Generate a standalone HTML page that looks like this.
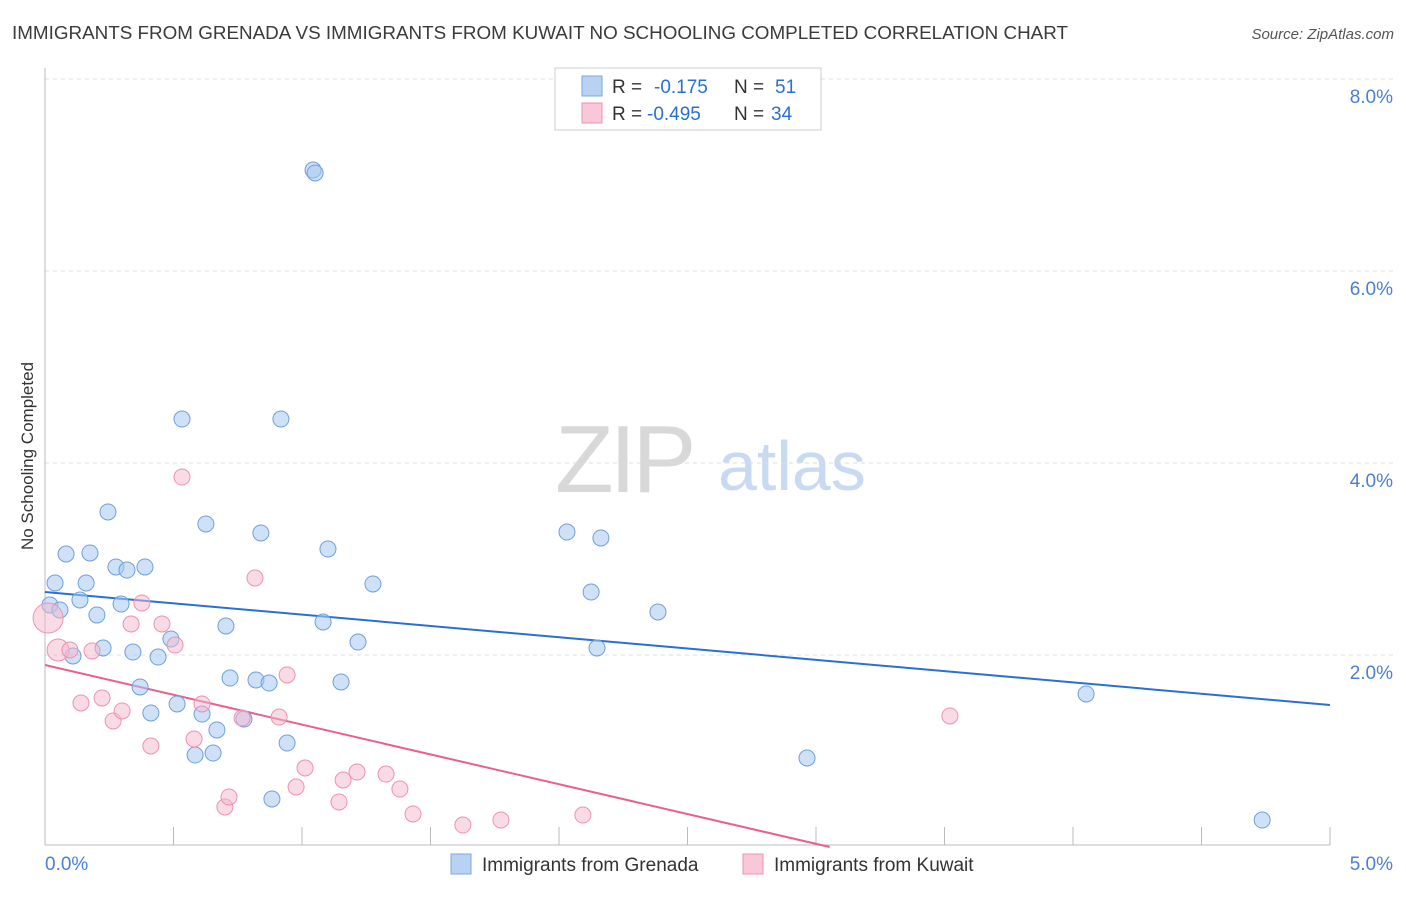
<!DOCTYPE html>
<html><head><meta charset="utf-8">
<style>
body{margin:0;background:#fff;font-family:"Liberation Sans",sans-serif;}
svg text{font-family:"Liberation Sans",sans-serif;}
</style></head>
<body>
<svg id="chart" width="1406" height="892" xmlns="http://www.w3.org/2000/svg">
<text x="12" y="39" font-size="18" fill="#3a3a3a" textLength="1056" lengthAdjust="spacingAndGlyphs">IMMIGRANTS FROM GRENADA VS IMMIGRANTS FROM KUWAIT NO SCHOOLING COMPLETED CORRELATION CHART</text>
<text x="1394" y="39" font-size="15" fill="#555" font-style="italic" text-anchor="end">Source: ZipAtlas.com</text>
<text transform="translate(33,456) rotate(-90)" font-size="17" fill="#333" text-anchor="middle">No Schooling Completed</text>
<g>
<text x="555" y="492" font-size="96" fill="#d8d8d8" font-family="Liberation Serif" letter-spacing="-4">ZIP</text>
<text x="718" y="490" font-size="70" fill="#c8daf2">atlas</text>
</g>
<g id="grid"></g><g id="axes"></g><g id="lines"></g><g id="points"></g>
<g>
<rect x="555" y="68" width="266" height="62" fill="#fff" stroke="#ccc"/>
<rect x="582" y="76" width="20" height="20" fill="#b8d2f4" stroke="#7aa8e0"/>
<text x="612" y="93" font-size="19" fill="#333">R = </text><text x="654" y="93" font-size="19" fill="#2a6fd4">-0.175</text>
<text x="734" y="93" font-size="19" fill="#333">N = </text><text x="775" y="93" font-size="19" fill="#2a6fd4">51</text>
<rect x="582" y="103" width="20" height="20" fill="#f8c8d8" stroke="#f090b0"/>
<text x="612" y="120" font-size="19" fill="#333">R = </text><text x="647" y="120" font-size="19" fill="#2a6fd4">-0.495</text>
<text x="734" y="120" font-size="19" fill="#333">N = </text><text x="771" y="120" font-size="19" fill="#2a6fd4">34</text>
</g>
<g>
<rect x="451" y="854" width="20" height="20" fill="#b8d2f4" stroke="#7aa8e0"/>
<text x="482" y="871" font-size="19" fill="#333">Immigrants from Grenada</text>
<rect x="743" y="854" width="20" height="20" fill="#f8c8d8" stroke="#f090b0"/>
<text x="774" y="871" font-size="19" fill="#333">Immigrants from Kuwait</text>
</g>
</svg>
<script>
const yTicks=[2,4,6,8];
const yTickLabels=["2.0%","4.0%","6.0%","8.0%"];
const xTickLabels=["0.0%","5.0%"];
const blueX=[0.019,0.039,0.058,0.082,0.109,0.136,0.160,0.175,0.202,0.226,0.245,0.276,0.296,0.319,0.342,0.370,0.389,0.412,0.440,0.490,0.514,0.533,0.584,0.611,0.626,0.654,0.669,0.704,0.720,0.774,0.821,0.840,0.872,0.883,0.918,0.942,1.043,1.051,1.082,1.101,1.152,1.218,1.276,2.031,2.125,2.148,2.163,2.385,2.965,4.051,4.736];
const blueY=[2.521,2.750,2.469,3.052,1.990,2.573,2.750,3.063,2.417,2.073,3.490,2.917,2.531,2.885,2.031,1.667,2.917,1.396,1.979,2.167,1.490,4.458,0.958,1.385,3.365,0.979,1.219,2.302,1.760,1.333,1.740,3.271,1.708,0.5,4.458,1.083,7.052,7.021,2.344,3.104,1.719,2.135,2.740,3.281,2.656,2.073,3.219,2.448,0.927,1.594,0.281];
const pinkX=[0.012,0.051,0.097,0.140,0.183,0.222,0.265,0.300,0.335,0.377,0.412,0.455,0.506,0.533,0.580,0.611,0.700,0.716,0.767,0.817,0.911,0.942,0.977,1.012,1.144,1.160,1.214,1.327,1.381,1.432,1.626,1.774,2.093,3.521];
const pinkY=[2.385,2.052,2.052,1.5,2.042,1.552,1.313,1.417,2.323,2.542,1.052,2.323,2.104,3.854,1.125,1.490,0.417,0.521,1.344,2.802,1.354,1.792,0.625,0.823,0.469,0.698,0.781,0.760,0.604,0.344,0.229,0.281,0.333,1.365];
const blueTrend=[2.656,1.479];
const pinkTrend=[1.896,-1.209];
const NS="http://www.w3.org/2000/svg";
const X0=45,X1=1330,Y0=847,PY=96;
function xs(v){return X0+(X1-X0)*v/5;}
function ys(v){return Y0-v*PY;}
function mk(t,a,p){const e=document.createElementNS(NS,t);for(const k in a)e.setAttribute(k,a[k]);p.appendChild(e);return e;}
const grid=document.getElementById('grid'),axes=document.getElementById('axes'),lines=document.getElementById('lines'),pts=document.getElementById('points');
yTicks.forEach((t,i)=>{
 const g=mk('line',{x1:X0,x2:1394,y1:ys(t),y2:ys(t),stroke:'#ddd','stroke-dasharray':'4,4'},grid);
 
 
 const l=mk('text',{x:1393,y:ys(t)+24,'font-size':19,fill:'#4a7fd4','text-anchor':'end'},axes);
 l.textContent=yTickLabels[i];
 
 
});
const ax=mk('line',{x1:X0,x2:X0,y1:68,y2:845,stroke:'#bbb'},axes);


const bx=mk('line',{x1:X0,x2:X1,y1:845,y2:845,stroke:'#bbb'},axes);


for(let i=0;i<=10;i++){const x=X0+(X1-X0)*i/10;const t=mk('line',{x1:x,x2:x,y1:827,y2:845,stroke:'#bbb'},axes);
 
 }
xTickLabels.forEach((s,i)=>{const t=mk('text',{x:i?1393:45,y:870,'font-size':19,fill:'#4a7fd4','text-anchor':i?'end':'start'},axes);t.textContent=s;
 
 });
const bl=mk('line',{x1:xs(0),y1:ys(blueTrend[0]),x2:xs(5),y2:ys(blueTrend[1]),stroke:'#2a6fd4','stroke-width':2},lines);


const px0=5*pinkTrend[0]/(pinkTrend[0]-pinkTrend[1]);
const pl=mk('line',{x1:xs(0),y1:ys(pinkTrend[0]),x2:xs(px0),y2:ys(0),stroke:'#e8608c','stroke-width':2},lines);


blueX.forEach((x,i)=>{const c=mk('circle',{cx:xs(x),cy:ys(blueY[i]),r:8,fill:'rgba(168,200,240,0.55)',stroke:'#6f9fdc','stroke-width':1},pts);
 
 });
pinkX.forEach((x,i)=>{const c=mk('circle',{cx:xs(x),cy:ys(pinkY[i]),r:i==0?15:(i==1?11:8),fill:'rgba(244,184,204,0.5)',stroke:'#f090b0','stroke-width':1},pts);
 
 });
</script>
</body></html>
